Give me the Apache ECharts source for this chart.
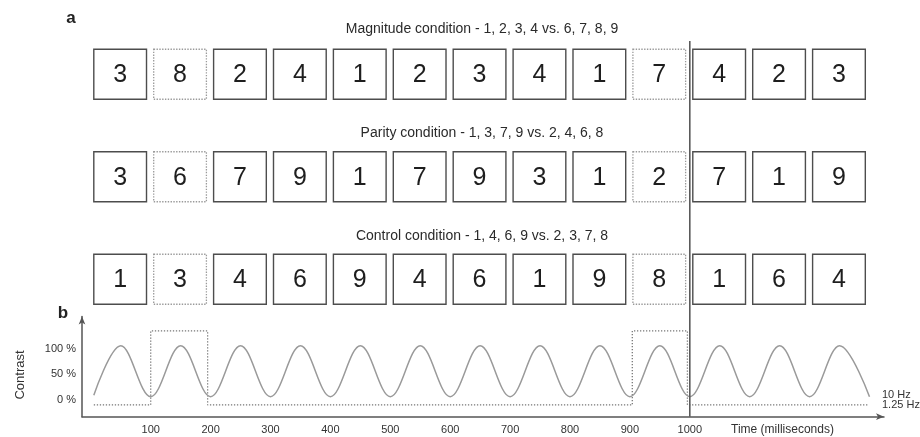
<!DOCTYPE html>
<html>
<head>
<meta charset="utf-8">
<script src="https://cdn.jsdelivr.net/npm/echarts@6/dist/echarts.min.js"></script>
<style>
html,body{margin:0;padding:0;background:#fff;}
#chart{width:920px;height:437px;}
</style>
</head>
<body>
<div id="chart"></div>
<script>
// ---- data ----
const rowTitles = [
  'Magnitude condition - 1, 2, 3, 4 vs. 6, 7, 8, 9',
  'Parity condition - 1, 3, 7, 9 vs. 2, 4, 6, 8',
  'Control condition - 1, 4, 6, 9 vs. 2, 3, 7, 8'
];
const magnitudeDigits = [3, 8, 2, 4, 1, 2, 3, 4, 1, 7, 4, 2, 3];
const parityDigits    = [3, 6, 7, 9, 1, 7, 9, 3, 1, 2, 7, 1, 9];
const controlDigits   = [1, 3, 4, 6, 9, 4, 6, 1, 9, 8, 1, 6, 4];
const oddballIndices  = [1, 9];
const itemSOA = 100; // ms per item (10 Hz)
const stimulusEnd = 1000; // ms, vertical marker

const timeTicks = [100, 200, 300, 400, 500, 600, 700, 800, 900, 1000];
const contrastTicks = [0, 50, 100];

// 10 Hz contrast modulation: peaks and troughs
const waveTime = [5, 50, 100, 150, 200, 250, 300, 350, 400, 450, 500, 550, 600, 650, 700,
                  750, 800, 850, 900, 950, 1000, 1050, 1100, 1150, 1200, 1250, 1300];
const waveContrast = [3, 100, 0, 100, 0, 100, 0, 100, 0, 100, 0, 100, 0, 100, 0,
                      100, 0, 100, 0, 100, 0, 100, 0, 100, 0, 100, 0];

// 1.25 Hz oddball trace (dotted)
const pulseTime  = [5, 100, 100, 195, 195, 904, 904, 996, 996, 1298];
const pulseLevel = [-16, -16, 129, 129, -16, -16, 129, 129, -16, -16];

const freqLabels = ['10 Hz', '1.25 Hz'];

// ---- build ----
const FONT = '"Liberation Sans", Arial, Helvetica, sans-serif';
const rows = [magnitudeDigits, parityDigits, controlDigits];
const boxData = [];
rows.forEach((digits, r) => {
  digits.forEach((d, i) => {
    boxData.push([i, r, d, oddballIndices.indexOf(i) >= 0 ? 1 : 0]);
  });
});
const waveData = waveTime.map((t, i) => [t, waveContrast[i]]);
const pulseData = pulseTime.map((t, i) => [t, pulseLevel[i]]);

const X_MIN = -14.7, X_MAX = 1324.2;
const GRID_LEFT = 82, GRID_W = 802;

function renderBox(params, api) {
  const idx = api.value(0), row = api.value(1), digit = api.value(2), odd = api.value(3);
  const p0 = api.coord([idx * itemSOA + 5, row]);
  const p1 = api.coord([idx * itemSOA + 93, row]);
  const h = api.size([0, 1])[1] * 0.488;
  return {
    type: 'group',
    children: [
      {
        type: 'rect',
        shape: { x: p0[0], y: p0[1] - h / 2, width: p1[0] - p0[0], height: h },
        style: odd
          ? { fill: '#fff', stroke: '#9a9a9a', lineWidth: 1.3, lineDash: [1.4, 1.4] }
          : { fill: '#fff', stroke: '#4d4d4d', lineWidth: 1.4 }
      },
      {
        type: 'text',
        style: {
          text: String(digit), x: (p0[0] + p1[0]) / 2, y: p0[1] + 1,
          align: 'center', verticalAlign: 'middle',
          font: '25px ' + FONT, fill: '#1e1e1e'
        }
      }
    ]
  };
}

function renderVLine(params, api) {
  const a = api.coord([api.value(0), 0]);
  const b = api.coord([api.value(0), 1]);
  return {
    type: 'line',
    shape: { x1: a[0], y1: a[1], x2: b[0], y2: b[1] },
    style: { stroke: '#5a5a5a', lineWidth: 1.6 }
  };
}

const titleY = [29, 133, 236];
const graphics = rowTitles.map((t, i) => ({
  type: 'text', x: 482, y: titleY[i],
  style: { text: t, align: 'center', verticalAlign: 'middle', font: '14px ' + FONT, fill: '#2a2a2a' }
}));
graphics.push(
  { type: 'text', x: 71, y: 18, style: { text: 'a', align: 'center', verticalAlign: 'middle', font: 'bold 17px ' + FONT, fill: '#222' } },
  { type: 'text', x: 63, y: 313, style: { text: 'b', align: 'center', verticalAlign: 'middle', font: 'bold 17px ' + FONT, fill: '#222' } },
  { type: 'text', x: 20, y: 375, rotation: Math.PI / 2, style: { text: 'Contrast', align: 'center', verticalAlign: 'middle', font: '13px ' + FONT, fill: '#333' } },
  { type: 'text', x: 731, y: 430, style: { text: 'Time (milliseconds)', align: 'left', verticalAlign: 'middle', font: '12px ' + FONT, fill: '#333' } },
  { type: 'text', x: 882, y: 395, style: { text: freqLabels[0], align: 'left', verticalAlign: 'middle', font: '11px ' + FONT, fill: '#333' } },
  { type: 'text', x: 882, y: 404.5, style: { text: freqLabels[1], align: 'left', verticalAlign: 'middle', font: '11px ' + FONT, fill: '#333' } }
);

const chart = echarts.init(document.getElementById('chart'), null, { renderer: 'canvas' });
chart.setOption({
  animation: false,
  backgroundColor: '#fff',
  textStyle: { fontFamily: FONT },
  grid: [
    { left: GRID_LEFT, width: GRID_W, top: 316.5, height: 100.2 },
    { left: GRID_LEFT, width: GRID_W, top: 23, height: 307.5 },
    { left: GRID_LEFT, width: GRID_W, top: 41, height: 375.7 }
  ],
  xAxis: [
    {
      gridIndex: 0, type: 'value', min: X_MIN, max: X_MAX,
      axisLine: { show: true, onZero: false, symbol: ['none', 'arrow'], symbolSize: [5, 8],
                  lineStyle: { color: '#555', width: 1.5 } },
      axisTick: { show: false },
      splitLine: { show: false },
      axisLabel: { customValues: timeTicks, formatter: v => String(v), color: '#333', fontSize: 11,
                   margin: 8, fontFamily: FONT }
    },
    { gridIndex: 1, type: 'value', min: X_MIN, max: X_MAX, show: false },
    { gridIndex: 2, type: 'value', min: X_MIN, max: X_MAX, show: false }
  ],
  yAxis: [
    {
      gridIndex: 0, type: 'value', min: -39.2, max: 157.3,
      axisLine: { show: true, onZero: false, symbol: ['none', 'arrow'], symbolSize: [5, 8],
                  lineStyle: { color: '#555', width: 1.5 } },
      axisTick: { show: false },
      splitLine: { show: false },
      axisLabel: {
        customValues: contrastTicks,
        formatter: v => '{p|' + v + ' %}',
        margin: 6,
        rich: { p: { fontSize: 11, color: '#333', fontFamily: FONT, padding: [6, 0, 0, 0] } }
      }
    },
    { gridIndex: 1, type: 'category', data: ['magnitude', 'parity', 'control'], inverse: true, show: false },
    { gridIndex: 2, type: 'value', min: 0, max: 1, show: false }
  ],
  graphic: graphics,
  series: [
    {
      type: 'line', xAxisIndex: 0, yAxisIndex: 0, data: pulseData,
      showSymbol: false, symbol: 'none', silent: true,
      lineStyle: { color: '#777', width: 1.3, type: [1.3, 1.7] }
    },
    {
      type: 'line', xAxisIndex: 0, yAxisIndex: 0, data: waveData,
      showSymbol: false, symbol: 'none', smooth: 0.364, silent: true,
      lineStyle: { color: '#9a9a9a', width: 1.5 }
    },
    {
      type: 'custom', xAxisIndex: 1, yAxisIndex: 1, data: boxData,
      renderItem: renderBox, silent: true
    },
    {
      type: 'custom', xAxisIndex: 2, yAxisIndex: 2, data: [[stimulusEnd]],
      renderItem: renderVLine, silent: true, z: 10
    }
  ]
});
</script>
</body>
</html>
